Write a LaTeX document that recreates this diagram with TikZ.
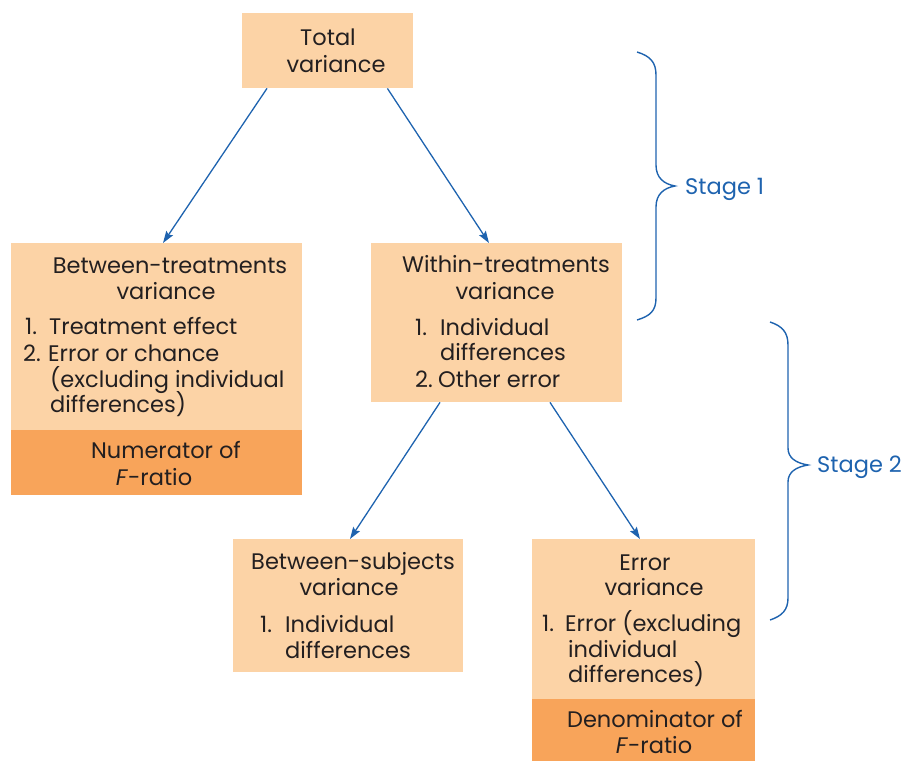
\documentclass[tikz,border=0pt]{standalone}
\usepackage{fontspec}
\setmainfont{Poppins}
\usetikzlibrary{arrows.meta}
\definecolor{lightor}{HTML}{FCD3A6}
\definecolor{darkor}{HTML}{F8A45A}
\definecolor{arrblue}{HTML}{1E63AF}
\definecolor{txt}{HTML}{231F20}
\begin{document}
\begin{tikzpicture}[x=1pt,y=-1pt,
  lightbox/.style={fill=lightor,draw=none,anchor=north west,inner sep=0pt},
  darkbox/.style={fill=darkor,draw=none,anchor=north west,inner sep=0pt},
  ctext/.style={anchor=base,inner sep=0pt,text=txt,font=\fontsize{22.5}{26}\selectfont},
  ltext/.style={anchor=base west,inner sep=0pt,text=txt,font=\fontsize{22.5}{26}\selectfont},
  stagetext/.style={anchor=base west,inner sep=0pt,text=arrblue,font=\fontsize{22.5}{26}\selectfont},
  conn/.style={draw=arrblue,line width=1.3pt,-{Stealth[length=12pt,width=8pt,inset=2pt]}},
  bracepath/.style={draw=arrblue,line width=1.4pt}]
\useasboundingbox (0,0) rectangle (908,761);
% boxes
\node[lightbox,minimum width=171pt,minimum height=75pt] (total) at (242,13) {};
\node[lightbox,minimum width=291pt,minimum height=187pt] (bt) at (11,243) {};
\node[darkbox,minimum width=291pt,minimum height=65pt] (btd) at (11,430) {};
\node[lightbox,minimum width=251pt,minimum height=159pt] (wt) at (371,243) {};
\node[lightbox,minimum width=230pt,minimum height=133pt] (bs) at (233,539) {};
\node[lightbox,minimum width=223pt,minimum height=160pt] (ev) at (532,539) {};
\node[darkbox,minimum width=223pt,minimum height=62pt] (evd) at (532,699) {};
% total
\node[ctext] (t1) at (328,45) {Total};
\node[ctext] (t2) at (336,72) {variance};
% between-treatments
\node[ctext] (b1) at (170,273) {Between-treatments};
\node[ctext] (b2) at (166,299) {variance};
\node[ltext] (b3n) at (25,334) {1.};
\node[ltext] (b3) at (49,334) {Treatment effect};
\node[ltext] (b4n) at (23,361) {2.};
\node[ltext] (b4) at (48,361) {Error or chance};
\node[ltext] (b5) at (50,387) {(excluding individual};
\node[ltext] (b6) at (50,412) {differences)};
\node[ctext] (b7) at (166,458) {Numerator of};
\node[ctext] (b8) at (154,485) {\textit{F}-ratio};
% within-treatments
\node[ctext] (w1) at (506,272) {Within-treatments};
\node[ctext] (w2) at (505,299) {variance};
\node[ltext] (w3n) at (415,335) {1.};
\node[ltext] (w3) at (440,335) {Individual};
\node[ltext] (w4) at (440,360) {differences};
\node[ltext] (w5n) at (415,387) {2.};
\node[ltext] (w5) at (438,387) {Other error};
% between-subjects
\node[ctext] (s1) at (353,569) {Between-subjects};
\node[ctext] (s2) at (349,595) {variance};
\node[ltext] (s3n) at (260,632) {1.};
\node[ltext] (s3) at (285,632) {Individual};
\node[ltext] (s4) at (285,658) {differences};
% error
\node[ctext] (e1) at (645,570) {Error};
\node[ctext] (e2) at (654,595) {variance};
\node[ltext] (e3n) at (542,631) {1.};
\node[ltext] (e3) at (565,631) {Error (excluding};
\node[ltext] (e4) at (568,657) {individual};
\node[ltext] (e5) at (568,682) {differences)};
\node[ctext] (e6) at (655,727) {Denominator of};
\node[ctext] (e7) at (654,753) {\textit{F}-ratio};
% connectors
\draw[conn] ([xshift=25pt]total.south west) -- ([xshift=152pt]bt.north west);
\draw[conn] ([xshift=-26pt]total.south east) -- ([xshift=118pt]wt.north west);
\draw[conn] ([xshift=69pt]wt.south west) -- ([xshift=117pt]bs.north west);
\draw[conn] ([xshift=179pt]wt.south west) -- ([xshift=108pt]ev.north west);
% braces
\draw[bracepath] (637,52) .. controls (650,56) and (656,62) .. (656,75) -- (656,165)
  .. controls (656,178) and (664,184) .. (675,186)
  .. controls (664,188) and (656,194) .. (656,207) -- (656,298)
  .. controls (656,311) and (650,316) .. (637,320);
\draw[bracepath] (770,322) .. controls (782,326) and (788,332) .. (788,345) -- (788,448)
  .. controls (788,458) and (796,463) .. (808,465)
  .. controls (796,467) and (788,472) .. (788,482) -- (788,598)
  .. controls (788,610) and (782,616) .. (770,620);
\node[stagetext] (st1) at (685,194) {Stage 1};
\node[stagetext] (st2) at (817,472) {Stage 2};
\end{tikzpicture}
\end{document}
